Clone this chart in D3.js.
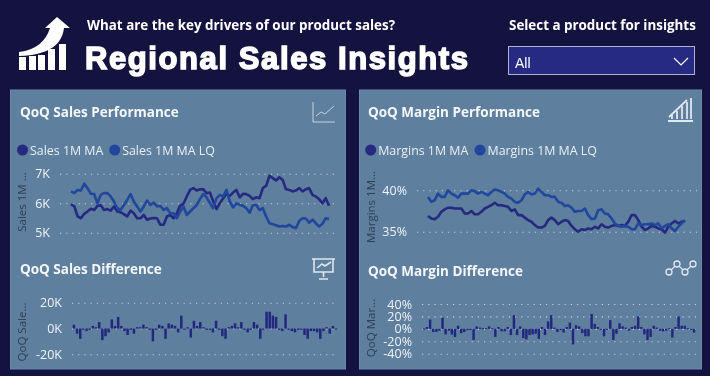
<!DOCTYPE html>
<html>
<head>
<meta charset="utf-8">
<script src="https://cdn.jsdelivr.net/npm/d3@7/dist/d3.min.js"></script>
<style>
    html, body { margin: 0; padding: 0; background: #14133f; overflow: hidden; }
    svg { display: block; filter: blur(0.3px); }
    text { font-family: "Open Sans", sans-serif; }
</style>
</head>
<body>
<div id="chart"></div>
<script>

// values
var salesMA = [ 5.97,5.89,5.55,5.49,5.64,5.72,5.81,5.77,5.91,5.93,5.77,5.80,5.75,5.89,5.72,5.69,5.63,5.55,5.75,5.66,5.49,5.49,5.60,5.44,5.48,5.50,5.49,5.27,5.27,5.55,5.60,5.49,5.66,5.92,5.98,6.23,6.45,6.51,6.43,6.47,6.47,6.34,6.36,6.06,5.80,6.00,6.17,6.31,6.25,6.36,6.45,6.20,6.32,6.31,6.25,6.14,6.20,6.17,6.51,6.59,6.93,6.85,6.77,6.88,6.79,6.47,6.45,6.40,6.43,6.51,6.40,6.47,6.51,6.28,6.23,6.14,6.00,6.17,5.91 ];
var salesLQ = [ 6.40,6.34,6.45,6.43,6.66,6.51,6.32,6.31,6.00,6.28,6.34,6.34,6.23,6.06,5.83,5.77,5.94,6.11,6.31,6.06,5.89,5.72,5.89,6.09,5.94,6.02,5.89,5.91,5.77,5.83,5.66,5.66,5.49,5.72,5.89,5.60,5.72,5.83,5.94,6.14,6.31,6.20,6.00,5.83,6.17,6.28,6.23,6.45,6.06,5.86,6.00,5.94,5.91,5.83,5.68,5.94,5.94,5.77,5.83,5.55,5.32,5.29,5.25,5.21,5.23,5.21,5.27,5.19,5.15,5.40,5.49,5.48,5.34,5.44,5.32,5.21,5.30,5.49,5.46 ];
var marginMA = [ 36.9,36.6,36.5,36.8,37.4,37.7,37.9,37.9,37.8,37.8,37.8,37.2,37.2,37.5,37.1,37.1,37.4,37.8,38.0,38.2,38.5,38.2,38.2,38.1,38.0,37.5,37.7,37.0,37.0,36.7,36.4,36.2,35.8,35.5,35.5,35.7,36.4,36.7,36.4,35.9,36.2,36.4,36.3,35.7,35.3,35.0,35.3,35.2,35.4,35.3,35.6,35.4,35.9,35.6,35.5,35.7,35.8,35.7,35.8,35.7,36.2,37.0,37.0,36.4,35.6,35.2,35.4,35.7,35.6,35.4,35.3,34.9,35.6,36.0,36.3,36.0,36.2,36.3 ];
var marginLQ = [ 39.2,38.6,38.8,39.6,39.2,39.2,40.0,39.6,39.4,39.1,39.6,39.6,39.6,40.0,39.9,39.6,39.8,39.6,39.4,39.8,40.1,40.0,39.8,39.6,39.2,39.0,38.6,38.5,38.8,39.5,39.8,39.5,39.6,40.2,39.8,39.4,39.4,39.2,39.2,38.6,38.5,38.1,38.2,37.9,37.4,37.5,37.5,37.8,37.0,36.5,36.6,37.6,37.7,37.2,37.1,36.6,36.0,35.7,35.6,35.7,35.6,35.3,35.3,36.0,35.8,35.9,35.9,36.0,35.8,36.0,35.4,35.7,35.9,35.4,35.1,35.6,36.0,36.4 ];
var salesDiff = [ 3,-4,-8,-1,-2,-1,2,1,5,-9,-6,-3,7,2,9,2,-2,-5,-1,-4,1,1,3,1,-1,-10,-1,3,2,-8,4,3,2,-3,10,-1,1,-7,6,2,5,1,-1,-1,-3,6,-1,-6,-8,1,2,4,1,5,-1,-3,-1,5,3,-8,-1,13,13,10,9,-1,-2,11,-1,-2,-3,-1,-1,-5,-8,-2,-2,-3,-8,-2,1,-4,2,-0.5 ];
var marginDiff = [ 0.5,3,15,-5,-5,-3,18,-9,-3,-9,-13,5,-7,-5,-2,-2,-18,4,2,1,1,4,1,-13,3,-4,-4,3,-10,22,-10,4,-15,-17,-10,-9,-8,-16,3,-10,12,22,2,-5,-2,-6,3,10,-25,6,4,-7,-12,-12,24,8,3,-1,-12,-1,14,-18,-8,9,4,2,-3,3,5,20,3,-9,-18,-13,5,2,-3,-4,-3,1,-14,3,20,5,5,1,-1,-6 ];

var salesTicks = [ 5, 6, 7 ];
var marginTicks = [ 35, 40 ];
var salesDiffTicks = [ -20, 0, 20 ];
var marginDiffTicks = [ -40, -20, 0, 20, 40 ];

var darkBlue = '#262980';
var midBlue = '#21479c';
var panelColor = '#5e7f9e';
var barColor = '#22267f';

var svg = d3.select('#chart').append('svg')
    .attr('width', 710)
    .attr('height', 376);

// panels

function panel ( x, w ) {

    svg.append('rect')
        .attr('x', x)
        .attr('y', 90)
        .attr('width', w)
        .attr('height', 279)
        .attr('fill', panelColor)
        .attr('stroke', '#6a8aa8');

}

panel( 10.5, 335 );
panel( 359.5, 342 );

// header

svg.append('text')
    .attr('x', 87)
    .attr('y', 30)
    .attr('fill', '#ffffff')
    .attr('font-size', 13.4)
    .attr('font-weight', 700)
    .text('What are the key drivers of our product sales?');

svg.append('text')
    .attr('x', 509)
    .attr('y', 30)
    .attr('fill', '#ffffff')
    .attr('font-size', 13.4)
    .attr('font-weight', 700)
    .text('Select a product for insights');

svg.append('text')
    .attr('x', 85)
    .attr('y', 69)
    .attr('fill', '#ffffff')
    .attr('stroke', '#ffffff')
    .attr('stroke-width', 1.5)
    .attr('textLength', 383)
    .attr('lengthAdjust', 'spacing')
    .style('font-family', '"Liberation Sans", sans-serif')
    .attr('font-size', 31)
    .attr('font-weight', 700)
    .text('Regional Sales Insights');

// the logo, bars with an arrow going up

var logoBars = [ [ 19, 13 ], [ 29, 14 ], [ 38, 15 ], [ 48, 21 ], [ 59, 26 ] ];

logoBars.forEach( function ( d ) {

    svg.append('rect')
        .attr('x', d[0])
        .attr('y', 70 - d[1])
        .attr('width', 7)
        .attr('height', d[1])
        .attr('fill', '#ffffff');

});

svg.append('path')
    .attr('d', 'M19,52 C36,50 46,41 50,28 L45,28 L57,17 L70,28 L64,28 C62,44 50,55 19,56 Z')
    .attr('fill', '#ffffff');

// dropdown

svg.append('rect')
    .attr('x', 508.5)
    .attr('y', 46.5)
    .attr('width', 186)
    .attr('height', 28)
    .attr('fill', '#262a82')
    .attr('stroke', '#aab3d6');

svg.append('text')
    .attr('x', 515)
    .attr('y', 68)
    .attr('fill', '#ffffff')
    .attr('font-size', 14)
    .style('font-family', '"Liberation Sans", sans-serif')
    .text('All');

svg.append('path')
    .attr('d', 'M674,58 L681,65 L688,58')
    .attr('fill', 'none')
    .attr('stroke', '#ffffff')
    .attr('stroke-width', 1.2);

// titles, legends

function title ( x, y, label ) {

    svg.append('text')
        .attr('x', x)
        .attr('y', y)
        .attr('fill', '#f4f7fa')
        .attr('font-size', 13.5)
        .attr('font-weight', 700)
        .text( label );

}

title( 20, 117, 'QoQ Sales Performance' );
title( 368, 117, 'QoQ Margin Performance' );
title( 20, 274, 'QoQ Sales Difference' );
title( 368, 276, 'QoQ Margin Difference' );

function legendItem ( cx, color, label ) {

    svg.append('circle')
        .attr('cx', cx)
        .attr('cy', 150)
        .attr('r', 5.5)
        .attr('fill', color);

    svg.append('text')
        .attr('x', cx + 7.5)
        .attr('y', 154.5)
        .attr('fill', '#e9eff5')
        .attr('font-size', 12.4)
        .text( label );

}

legendItem( 22.5, darkBlue, 'Sales 1M MA' );
legendItem( 114.7, midBlue, 'Sales 1M MA LQ' );
legendItem( 370.7, darkBlue, 'Margins 1M MA' );
legendItem( 480, midBlue, 'Margins 1M MA LQ' );

// axis with dotted gridlines

function drawAxis ( scale, ticks, format, x0, x1, size ) {

    var axis = d3.axisLeft( scale )
        .tickValues( ticks )
        .tickSize( x0 - x1 )
        .tickFormat( format );

    var g = svg.append('g')
        .attr('transform', 'translate(' + x0 + ',0)')
        .call( axis );

    g.select('.domain').remove();

    g.selectAll('.tick line')
        .attr('stroke', '#c3d1de')
        .attr('stroke-width', 1.1)
        .attr('stroke-dasharray', '1.2 5');

    g.selectAll('.tick text')
        .attr('x', -10)
        .attr('fill', '#f0f4f8')
        .attr('font-size', size)
        .style('font-family', '"Open Sans", sans-serif');

}

function yLabel ( x, y, label ) {

    svg.append('text')
        .attr('transform', 'translate(' + x + ',' + y + ') rotate(-90)')
        .attr('text-anchor', 'middle')
        .attr('fill', '#2f3f55')
        .attr('font-size', 11.5)
        .text( label );

}

function lineChart ( series, domain, yRange, xRange, ticks, format, gridX ) {

    var x = d3.scaleLinear().domain([ 0, series[0].values.length - 1 ]).range( xRange );
    var y = d3.scaleLinear().domain( domain ).range( yRange );

    drawAxis( y, ticks, format, gridX[0], gridX[1], 12.5 );

    var line = d3.line()
        .x( function ( d, i ) { return x( i ); } )
        .y( function ( d ) { return y( d ); } );

    series.forEach( function ( s ) {

        svg.append('path')
            .attr('d', line( s.values ))
            .attr('fill', 'none')
            .attr('stroke', s.color)
            .attr('stroke-width', 2.6)
            .attr('stroke-linejoin', 'round');

    });

}

function barChart ( values, domain, yRange, xRange, ticks, format ) {

    var x = d3.scaleBand().domain( d3.range( values.length ) ).range( xRange ).padding( 0.22 );
    var y = d3.scaleLinear().domain( domain ).range( yRange );

    drawAxis( y, ticks, format, xRange[0], xRange[1], 12.5 );

    svg.append('g').selectAll('rect')
        .data( values )
        .enter().append('rect')
        .attr('x', function ( d, i ) { return x( i ); })
        .attr('y', function ( d ) { return y( Math.max( d, 0 ) ); })
        .attr('width', x.bandwidth())
        .attr('height', function ( d ) { return Math.max( Math.abs( y( d ) - y( 0 ) ), 1 ); })
        .attr('fill', barColor);

}

var kFormat = function ( d ) { return d + 'K'; };
var pctFormat = function ( d ) { return d + '%'; };

lineChart( [ { values: salesMA, color: darkBlue }, { values: salesLQ, color: midBlue } ],
    [ 5, 7 ], [ 232.7, 173.7 ], [ 71, 329 ], salesTicks, kFormat, [ 60, 338 ] );

lineChart( [ { values: marginMA, color: darkBlue }, { values: marginLQ, color: midBlue } ],
    [ 35, 40 ], [ 231.7, 190.3 ], [ 428, 685 ], marginTicks, pctFormat, [ 417, 697 ] );

barChart( salesDiff, [ -20, 20 ], [ 354.3, 302.7 ], [ 72, 338 ], salesDiffTicks, kFormat );
barChart( marginDiff, [ -40, 40 ], [ 353.7, 304 ], [ 422, 696 ], marginDiffTicks, pctFormat );

yLabel( 26, 202, 'Sales 1M ...' );
yLabel( 375, 207, 'Margins 1M...' );
yLabel( 26, 332, 'QoQ Sale...' );
yLabel( 375, 328, 'QoQ Mar...' );

// small panel icons

function icon ( d, w ) {

    svg.append('path')
        .attr('d', d)
        .attr('fill', 'none')
        .attr('stroke', '#dfe7ef')
        .attr('stroke-width', w);

}

icon( 'M313,102 L313,122 L335,122 M316,116 L321,112 L325,114 L334,106', 0.8 );
icon( 'M668,121 L693,121 M669,117 L687,100 M672,119 L672,115 M677,119 L677,111 M682,119 L682,106 M687,119 L687,102 M691,119 L691,98', 1.8 );
icon( 'M312,259 L335,259 M314,259 L314,272 L333,272 L333,259 M317,268 L322,264 L325,266 L331,262 M323.5,272 L323.5,277 M319,279 L328,279', 1.6 );

var dots = [ [ 669, 272 ], [ 677, 264 ], [ 685, 272 ], [ 693, 264 ] ];

icon( 'M669,272 L677,264 L685,272 L693,264', 1.2 );

dots.forEach( function ( d ) {

    svg.append('circle')
        .attr('cx', d[0])
        .attr('cy', d[1])
        .attr('r', 3)
        .attr('fill', panelColor)
        .attr('stroke', '#dfe7ef')
        .attr('stroke-width', 1.3);

});

</script>
</body>
</html>
